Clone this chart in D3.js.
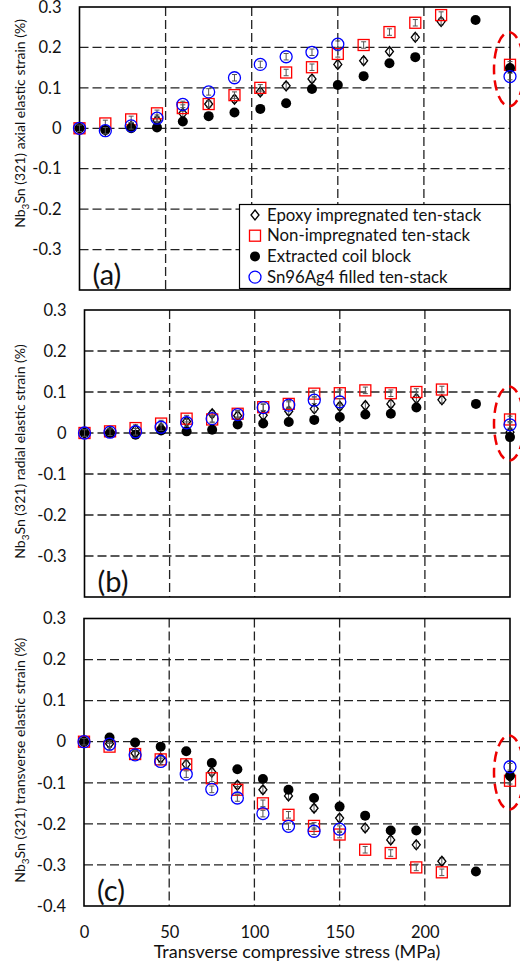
<!DOCTYPE html>
<html>
<head>
<meta charset="utf-8">
<script src="https://cdn.jsdelivr.net/npm/d3@7"></script>
<style>
  body { margin: 0; background: #fff; }
  svg { font-family: Lato, "Open Sans", sans-serif; }
</style>
</head>
<body>
<div id="chart"></div>
<script>
// Stress steps (MPa). The last point of every series (250) is after unloading.
var stressTen  = [0, 15, 30, 45, 60, 75, 90, 105, 120, 135, 150, 165, 180, 195, 210, 250];
var stressCoil = [0, 15, 30, 45, 60, 75, 90, 105, 120, 135, 150, 165, 180, 195, 230, 250];
var stressSn   = [0, 15, 30, 45, 60, 75, 90, 105, 120, 135, 150, 250];

// (a) axial elastic strain (%)
var epoxyA   = [0, -0.005, 0.005, 0.02, 0.037, 0.06, 0.072, 0.09, 0.105, 0.122, 0.158, 0.167, 0.19, 0.225, 0.264, 0.148];
var nonImpA  = [0, 0.012, 0.022, 0.037, 0.05, 0.06, 0.082, 0.10, 0.138, 0.151, 0.184, 0.206, 0.238, 0.261, 0.28, 0.157];
var coilA    = [0, -0.004, 0, 0.002, 0.017, 0.03, 0.039, 0.048, 0.062, 0.097, 0.107, 0.129, 0.161, 0.176, 0.268, 0.149];
var snAgA    = [0, -0.006, 0.006, 0.025, 0.059, 0.09, 0.125, 0.158, 0.177, 0.188, 0.208, 0.128];

// (b) radial elastic strain (%)
var epoxyB   = [0, 0.003, 0.008, 0.012, 0.028, 0.047, 0.042, 0.043, 0.053, 0.059, 0.065, 0.067, 0.071, 0.084, 0.081, 0.002];
var nonImpB  = [0, 0.004, 0.012, 0.023, 0.035, 0.033, 0.047, 0.063, 0.071, 0.096, 0.097, 0.104, 0.097, 0.10, 0.106, 0.033];
var coilB    = [0, 0, -0.004, 0.006, 0.004, 0.008, 0.021, 0.023, 0.027, 0.032, 0.039, 0.045, 0.047, 0.062, 0.071, -0.01];
var snAgB    = [0, 0.002, 0.003, 0.014, 0.025, 0.035, 0.045, 0.062, 0.068, 0.08, 0.076, 0.02];

// (c) transverse elastic strain (%)
var epoxyC   = [0, -0.005, -0.028, -0.04, -0.055, -0.074, -0.106, -0.117, -0.132, -0.162, -0.186, -0.21, -0.239, -0.251, -0.291, -0.085];
var nonImpC  = [0, -0.012, -0.03, -0.043, -0.055, -0.089, -0.117, -0.15, -0.178, -0.205, -0.226, -0.263, -0.271, -0.306, -0.318, -0.095];
var coilC    = [0, 0.01, -0.002, -0.012, -0.023, -0.052, -0.067, -0.091, -0.117, -0.137, -0.158, -0.18, -0.216, -0.216, -0.316, -0.083];
var snAgC    = [0, -0.006, -0.032, -0.048, -0.079, -0.116, -0.137, -0.175, -0.206, -0.218, -0.213, -0.061];

var errBar = 0.008; // +/- error on strain (%)

var seriesNames = ["Epoxy impregnated ten-stack", "Non-impregnated ten-stack", "Extracted coil block", "Sn96Ag4 filled ten-stack"];
var panelNames  = ["axial", "radial", "transverse"];
var panelTags   = ["(a)", "(b)", "(c)"];
var yTicksAB    = [-0.3, -0.2, -0.1, 0, 0.1, 0.2, 0.3];
var yTicksC     = [-0.4, -0.3, -0.2, -0.1, 0, 0.1, 0.2, 0.3];
var xTicks      = [0, 50, 100, 150, 200];
var xGrid       = [50, 100, 150, 200];
var yGrid       = [-0.3, -0.2, -0.1, 0, 0.1, 0.2];
var ellipseMid  = [0.146, 0.023, -0.075]; // centre of the dashed "after unloading" ring

var panelData = [
    [epoxyA, nonImpA, coilA, snAgA],
    [epoxyB, nonImpB, coilB, snAgB],
    [epoxyC, nonImpC, coilC, snAgC]
];
var seriesX = [stressTen, stressTen, stressCoil, stressSn];

// pixel boxes of the three plots
var boxes = [
    { top: 7,     bottom: 290, left: 79.5 },
    { top: 310,   bottom: 597, left: 84.5 },
    { top: 618.5, bottom: 906, left: 84 }
];
var plotRight = 510;

var svg = d3.select("#chart").append("svg")
    .attr("width", 520)
    .attr("height", 965);

var fmt = function (d) { return d === 0 ? "0" : String(+d.toFixed(1)); };

// marker drawers, one per series
function drawMarker(sel, k) {
    if (k === 0) {
        sel.append("path")
            .attr("d", "M0,-5L4,0L0,5L-4,0Z")
            .attr("fill", "none").attr("stroke", "#000").attr("stroke-width", 1.3);
    } else if (k === 1) {
        sel.append("rect")
            .attr("x", -5.5).attr("y", -5.5).attr("width", 11).attr("height", 11)
            .attr("fill", "none").attr("stroke", "#f00").attr("stroke-width", 1.3);
    } else if (k === 2) {
        sel.append("circle").attr("r", 5).attr("fill", "#000");
    } else {
        sel.append("circle").attr("r", 6)
            .attr("fill", "none").attr("stroke", "#00f").attr("stroke-width", 1.3);
    }
}

panelData.forEach(function (series, i) {
    var b = boxes[i];
    var x = d3.scaleLinear().domain([0, 250]).range([b.left, plotRight]);
    var y = d3.scaleLinear().domain([-0.4, 0.3]).range([b.bottom, b.top]);
    var g = svg.append("g");

    // dashed grid
    g.selectAll(".hg").data(yGrid).enter().append("line")
        .attr("x1", b.left).attr("x2", plotRight)
        .attr("y1", d => y(d)).attr("y2", d => y(d))
        .attr("stroke", "#222").attr("stroke-width", 1.3).attr("stroke-dasharray", "9,4");
    g.selectAll(".vg").data(xGrid).enter().append("line")
        .attr("x1", d => x(d)).attr("x2", d => x(d))
        .attr("y1", b.top).attr("y2", b.bottom)
        .attr("stroke", "#222").attr("stroke-width", 1.3).attr("stroke-dasharray", "9,4");

    // frame
    g.append("rect")
        .attr("x", b.left).attr("y", b.top)
        .attr("width", plotRight - b.left).attr("height", b.bottom - b.top)
        .attr("fill", "none").attr("stroke", "#000").attr("stroke-width", 1.6);

    // y axis labels
    var yAxis = d3.axisLeft(y)
        .tickValues(i === 2 ? yTicksC : yTicksAB)
        .tickSize(0).tickPadding(18).tickFormat(fmt);
    var ya = g.append("g").attr("transform", "translate(" + b.left + ",0)").call(yAxis);
    ya.select(".domain").remove();
    ya.selectAll("text").attr("font-family", "Lato").attr("font-size", 16.5).attr("fill", "#111");

    if (i === 2) {
        var xAxis = d3.axisBottom(x).tickValues(xTicks).tickSize(0).tickPadding(20).tickFormat(d => d);
        var xa = g.append("g").attr("transform", "translate(0," + b.bottom + ")").call(xAxis);
        xa.select(".domain").remove();
        xa.selectAll("text").attr("font-family", "Lato").attr("font-size", 16.5).attr("fill", "#111");

        g.append("text")
            .attr("x", 297).attr("y", 958)
            .attr("text-anchor", "middle")
            .attr("font-size", 18).attr("fill", "#111")
            .text("Transverse compressive stress (MPa)");
    }

    // y title with subscript
    var yt = g.append("text")
        .attr("transform", "translate(25," + ((b.top + b.bottom) / 2 - (i === 0 ? 25 : 2)) + ") rotate(-90)")
        .attr("text-anchor", "middle")
        .attr("font-size", 14).attr("fill", "#111");
    yt.append("tspan").text("Nb");
    yt.append("tspan").attr("dy", 4).attr("font-size", 10).text("3");
    yt.append("tspan").attr("dy", -4).text("Sn (321) " + panelNames[i] + " elastic strain (%)");

    // panel tag
    g.append("text")
        .attr("x", b.left + 13).attr("y", b.bottom - 5)
        .attr("font-size", 29).attr("fill", "#111")
        .text(panelTags[i]);

    // series: error bars then markers
    series.forEach(function (vals, k) {
        var pts = vals.map(function (v, j) { return { s: seriesX[k][j], e: v }; });
        var sg = g.append("g");
        var eb = sg.selectAll(".eb").data(pts).enter().append("g")
            .attr("stroke", "#555").attr("stroke-width", 1);
        eb.append("line")
            .attr("x1", d => x(d.s)).attr("x2", d => x(d.s))
            .attr("y1", d => y(d.e - errBar)).attr("y2", d => y(d.e + errBar));
        eb.append("line")
            .attr("x1", d => x(d.s) - 2.5).attr("x2", d => x(d.s) + 2.5)
            .attr("y1", d => y(d.e - errBar)).attr("y2", d => y(d.e - errBar));
        eb.append("line")
            .attr("x1", d => x(d.s) - 2.5).attr("x2", d => x(d.s) + 2.5)
            .attr("y1", d => y(d.e + errBar)).attr("y2", d => y(d.e + errBar));

        sg.selectAll(".mk").data(pts).enter().append("g")
            .attr("transform", d => "translate(" + x(d.s) + "," + y(d.e) + ")")
            .each(function () { drawMarker(d3.select(this), k); });
    });

    // red dashed ring around the unloaded points
    g.append("ellipse")
        .attr("cx", x(250) - 1).attr("cy", y(ellipseMid[i]))
        .attr("rx", 15).attr("ry", 37)
        .attr("fill", "none").attr("stroke", "#e00")
        .attr("stroke-width", 2.5).attr("stroke-dasharray", "10,6");

    // legend in panel (a)
    if (i === 0) {
        var lg = g.append("g");
        lg.append("rect")
            .attr("x", 239.5).attr("y", 204.5)
            .attr("width", plotRight - 239.5).attr("height", 84)
            .attr("fill", "#fff").attr("stroke", "#000").attr("stroke-width", 1.2);
        var rows = lg.selectAll(".lr").data(seriesNames).enter().append("g")
            .attr("transform", (d, k) => "translate(255," + (215 + k * 20.7) + ")");
        rows.each(function (d, k) { drawMarker(d3.select(this), k); });
        rows.append("text")
            .attr("x", 12).attr("y", 5.5)
            .attr("font-size", 16.8).attr("fill", "#111")
            .text(d => d);
    }
});
</script>
</body>
</html>
